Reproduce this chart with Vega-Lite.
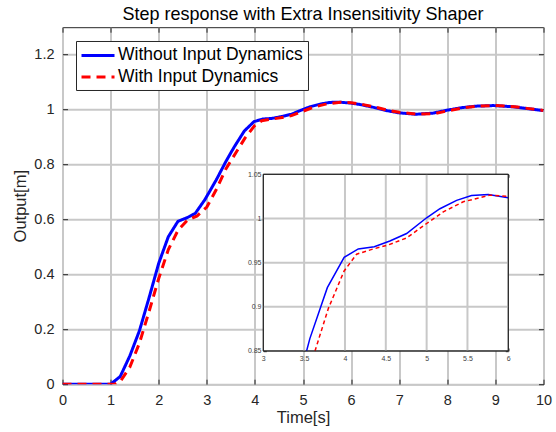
{
  "$schema": "https://vega.github.io/schema/vega-lite/v6.json",
  "width": 481,
  "height": 357,
  "autosize": {"type": "none"},
  "padding": {"left": 62.5, "top": 27.2, "right": 12.5, "bottom": 47.7},
  "background": "white",
  "title": {"text": "Step response with Extra Insensitivity Shaper", "font": "Liberation Sans", "fontSize": 18, "fontWeight": "normal", "color": "#000000", "anchor": "middle", "offset": 3},
  "config": {
    "font": "Liberation Sans",
    "view": {"stroke": "#262626", "strokeWidth": 1},
    "axis": {"labelFont": "Liberation Sans", "titleFont": "Liberation Sans", "labelColor": "#262626", "titleColor": "#262626", "tickColor": "#262626", "tickWidth": 1, "gridColor": "#c8c8c8", "gridWidth": 2, "domain": false, "titleFontWeight": "normal", "labelFlush": false}
  },
  "datasets": {
    "main": [
      {"t": 0, "v": 0, "series": "Without Input Dynamics"},
      {"t": 1.0, "v": 0, "series": "Without Input Dynamics"},
      {"t": 1.2, "v": 0.028, "series": "Without Input Dynamics"},
      {"t": 1.4, "v": 0.103, "series": "Without Input Dynamics"},
      {"t": 1.6, "v": 0.195, "series": "Without Input Dynamics"},
      {"t": 1.8, "v": 0.315, "series": "Without Input Dynamics"},
      {"t": 2.0, "v": 0.44, "series": "Without Input Dynamics"},
      {"t": 2.2, "v": 0.537, "series": "Without Input Dynamics"},
      {"t": 2.4, "v": 0.593, "series": "Without Input Dynamics"},
      {"t": 2.6, "v": 0.607, "series": "Without Input Dynamics"},
      {"t": 2.76, "v": 0.622, "series": "Without Input Dynamics"},
      {"t": 2.96, "v": 0.672, "series": "Without Input Dynamics"},
      {"t": 3.2, "v": 0.745, "series": "Without Input Dynamics"},
      {"t": 3.4, "v": 0.812, "series": "Without Input Dynamics"},
      {"t": 3.57, "v": 0.864, "series": "Without Input Dynamics"},
      {"t": 3.78, "v": 0.922, "series": "Without Input Dynamics"},
      {"t": 3.98, "v": 0.956, "series": "Without Input Dynamics"},
      {"t": 4.16, "v": 0.9655, "series": "Without Input Dynamics"},
      {"t": 4.36, "v": 0.968, "series": "Without Input Dynamics"},
      {"t": 4.55, "v": 0.9745, "series": "Without Input Dynamics"},
      {"t": 4.76, "v": 0.983, "series": "Without Input Dynamics"},
      {"t": 5.0, "v": 1.0005, "series": "Without Input Dynamics"},
      {"t": 5.16, "v": 1.011, "series": "Without Input Dynamics"},
      {"t": 5.37, "v": 1.0205, "series": "Without Input Dynamics"},
      {"t": 5.55, "v": 1.026, "series": "Without Input Dynamics"},
      {"t": 5.76, "v": 1.027, "series": "Without Input Dynamics"},
      {"t": 6.0, "v": 1.0235, "series": "Without Input Dynamics"},
      {"t": 6.2, "v": 1.018, "series": "Without Input Dynamics"},
      {"t": 6.47, "v": 1.008, "series": "Without Input Dynamics"},
      {"t": 6.75, "v": 0.996, "series": "Without Input Dynamics"},
      {"t": 7.0, "v": 0.988, "series": "Without Input Dynamics"},
      {"t": 7.35, "v": 0.983, "series": "Without Input Dynamics"},
      {"t": 7.7, "v": 0.987, "series": "Without Input Dynamics"},
      {"t": 8.0, "v": 0.998, "series": "Without Input Dynamics"},
      {"t": 8.3, "v": 1.007, "series": "Without Input Dynamics"},
      {"t": 8.6, "v": 1.0125, "series": "Without Input Dynamics"},
      {"t": 8.96, "v": 1.0146, "series": "Without Input Dynamics"},
      {"t": 9.35, "v": 1.0105, "series": "Without Input Dynamics"},
      {"t": 9.7, "v": 1.003, "series": "Without Input Dynamics"},
      {"t": 10.0, "v": 0.996, "series": "Without Input Dynamics"},
      {"t": 0, "v": 0, "series": "With Input Dynamics"},
      {"t": 1.0, "v": 0, "series": "With Input Dynamics"},
      {"t": 1.1, "v": 0.001, "series": "With Input Dynamics"},
      {"t": 1.2, "v": 0.01, "series": "With Input Dynamics"},
      {"t": 1.4, "v": 0.062, "series": "With Input Dynamics"},
      {"t": 1.6, "v": 0.15, "series": "With Input Dynamics"},
      {"t": 1.8, "v": 0.265, "series": "With Input Dynamics"},
      {"t": 2.0, "v": 0.385, "series": "With Input Dynamics"},
      {"t": 2.2, "v": 0.49, "series": "With Input Dynamics"},
      {"t": 2.4, "v": 0.56, "series": "With Input Dynamics"},
      {"t": 2.6, "v": 0.598, "series": "With Input Dynamics"},
      {"t": 2.8, "v": 0.613, "series": "With Input Dynamics"},
      {"t": 3.0, "v": 0.645, "series": "With Input Dynamics"},
      {"t": 3.2, "v": 0.71, "series": "With Input Dynamics"},
      {"t": 3.4, "v": 0.785, "series": "With Input Dynamics"},
      {"t": 3.63, "v": 0.85, "series": "With Input Dynamics"},
      {"t": 3.8, "v": 0.898, "series": "With Input Dynamics"},
      {"t": 3.99, "v": 0.9406, "series": "With Input Dynamics"},
      {"t": 4.14, "v": 0.9596, "series": "With Input Dynamics"},
      {"t": 4.35, "v": 0.9655, "series": "With Input Dynamics"},
      {"t": 4.53, "v": 0.97, "series": "With Input Dynamics"},
      {"t": 4.76, "v": 0.978, "series": "With Input Dynamics"},
      {"t": 5.0, "v": 0.994, "series": "With Input Dynamics"},
      {"t": 5.2, "v": 1.0075, "series": "With Input Dynamics"},
      {"t": 5.45, "v": 1.019, "series": "With Input Dynamics"},
      {"t": 5.78, "v": 1.0264, "series": "With Input Dynamics"},
      {"t": 6.0, "v": 1.025, "series": "With Input Dynamics"},
      {"t": 6.25, "v": 1.018, "series": "With Input Dynamics"},
      {"t": 6.5, "v": 1.009, "series": "With Input Dynamics"},
      {"t": 6.75, "v": 0.998, "series": "With Input Dynamics"},
      {"t": 7.0, "v": 0.99, "series": "With Input Dynamics"},
      {"t": 7.4, "v": 0.983, "series": "With Input Dynamics"},
      {"t": 7.75, "v": 0.986, "series": "With Input Dynamics"},
      {"t": 8.05, "v": 0.997, "series": "With Input Dynamics"},
      {"t": 8.35, "v": 1.007, "series": "With Input Dynamics"},
      {"t": 8.6, "v": 1.012, "series": "With Input Dynamics"},
      {"t": 9.0, "v": 1.0148, "series": "With Input Dynamics"},
      {"t": 9.4, "v": 1.0107, "series": "With Input Dynamics"},
      {"t": 9.7, "v": 1.0035, "series": "With Input Dynamics"},
      {"t": 10.0, "v": 0.997, "series": "With Input Dynamics"}
    ],
    "inset": [
      {"t": 3.53, "v": 0.85, "series": "Without Input Dynamics"},
      {"t": 3.57, "v": 0.864, "series": "Without Input Dynamics"},
      {"t": 3.784, "v": 0.9217, "series": "Without Input Dynamics"},
      {"t": 3.99, "v": 0.956, "series": "Without Input Dynamics"},
      {"t": 4.163, "v": 0.9655, "series": "Without Input Dynamics"},
      {"t": 4.359, "v": 0.968, "series": "Without Input Dynamics"},
      {"t": 4.55, "v": 0.9745, "series": "Without Input Dynamics"},
      {"t": 4.755, "v": 0.983, "series": "Without Input Dynamics"},
      {"t": 5.0, "v": 1.0008, "series": "Without Input Dynamics"},
      {"t": 5.163, "v": 1.011, "series": "Without Input Dynamics"},
      {"t": 5.367, "v": 1.0205, "series": "Without Input Dynamics"},
      {"t": 5.55, "v": 1.026, "series": "Without Input Dynamics"},
      {"t": 5.755, "v": 1.027, "series": "Without Input Dynamics"},
      {"t": 6.0, "v": 1.0235, "series": "Without Input Dynamics"},
      {"t": 3.633, "v": 0.85, "series": "With Input Dynamics"},
      {"t": 3.796, "v": 0.898, "series": "With Input Dynamics"},
      {"t": 3.99, "v": 0.9406, "series": "With Input Dynamics"},
      {"t": 4.143, "v": 0.9596, "series": "With Input Dynamics"},
      {"t": 4.347, "v": 0.9655, "series": "With Input Dynamics"},
      {"t": 4.53, "v": 0.97, "series": "With Input Dynamics"},
      {"t": 4.755, "v": 0.978, "series": "With Input Dynamics"},
      {"t": 5.0, "v": 0.9943, "series": "With Input Dynamics"},
      {"t": 5.204, "v": 1.0075, "series": "With Input Dynamics"},
      {"t": 5.449, "v": 1.0189, "series": "With Input Dynamics"},
      {"t": 5.776, "v": 1.0264, "series": "With Input Dynamics"},
      {"t": 6.0, "v": 1.025, "series": "With Input Dynamics"}
    ],
    "insetGridX": [{"g": 3.5}, {"g": 4}, {"g": 4.5}, {"g": 5}, {"g": 5.5}],
    "insetGridY": [{"g": 0.9}, {"g": 0.95}, {"g": 1.0}]
  },
  "layer": [
    {
      "data": {"name": "main"},
      "layer": [
        {
          "transform": [{"filter": "datum.series === 'Without Input Dynamics'"}],
          "mark": {"type": "line", "strokeWidth": 3, "clip": true},
          "encoding": {
            "x": {"field": "t", "type": "quantitative", "scale": {"domain": [0, 10], "nice": false, "zero": false},
              "axis": {"orient": "bottom", "values": [0, 1, 2, 3, 4, 5, 6, 7, 8, 9, 10], "grid": true, "tickSize": -5, "labelFontSize": 14.5, "labelPadding": 14.5, "title": "Time[s]", "titleFontSize": 16.5, "titlePadding": 2}},
            "y": {"field": "v", "type": "quantitative", "scale": {"domain": [0, 1.3], "nice": false, "zero": false},
              "axis": {"orient": "left", "values": [0, 0.2, 0.4, 0.6, 0.8, 1, 1.2], "format": "~g", "grid": true, "tickSize": -5, "labelFontSize": 14.5, "labelPadding": 13.5, "title": "Output[m]", "titleFontSize": 16.5, "titlePadding": 5}},
            "color": {"field": "series", "type": "nominal",
              "scale": {"domain": ["Without Input Dynamics", "With Input Dynamics"], "range": ["#0000ff", "#ff0000"]},
              "legend": {"title": null, "orient": "none", "legendX": 13.5, "legendY": 13.8, "symbolType": "M-2,0L2,0", "symbolSize": 272.25, "symbolStrokeWidth": 3, "symbolOffset": 7.5, "labelFont": "Liberation Sans", "labelFontSize": 17.5, "labelColor": "#000000", "labelOffset": 10, "labelLimit": 400, "padding": 4.5, "rowPadding": 2.5, "strokeColor": "#262626", "fillColor": "#ffffff"}},
            "strokeDash": {"field": "series", "type": "nominal",
              "scale": {"domain": ["Without Input Dynamics", "With Input Dynamics"], "range": [[1, 0], [9, 6]]},
              "legend": {"title": null}}
          }
        },
        {
          "transform": [{"filter": "datum.series === 'With Input Dynamics'"}],
          "mark": {"type": "line", "strokeWidth": 3, "clip": true},
          "encoding": {
            "x": {"field": "t", "type": "quantitative",
              "axis": {"orient": "top", "values": [0, 1, 2, 3, 4, 5, 6, 7, 8, 9, 10], "grid": false, "tickSize": -5, "labels": false, "title": null}},
            "y": {"field": "v", "type": "quantitative",
              "axis": {"orient": "right", "values": [0, 0.2, 0.4, 0.6, 0.8, 1, 1.2], "grid": false, "tickSize": -5, "labels": false, "title": null}},
            "color": {"field": "series", "type": "nominal"},
            "strokeDash": {"field": "series", "type": "nominal"}
          }
        }
      ],
      "resolve": {"axis": {"x": "independent", "y": "independent"}}
    },
    {
      "layer": [
        {
          "data": {"values": [{}]},
          "mark": {"type": "rect", "fill": "#ffffff", "stroke": "#262626", "strokeWidth": 1},
          "encoding": {
            "x": {"datum": 3, "type": "quantitative", "scale": {"domain": [3, 6], "range": [200.8, 445.8], "nice": false, "zero": false},
              "axis": {"orient": "bottom", "offset": -33.2, "values": [3, 3.5, 4, 4.5, 5, 5.5, 6], "format": "~g", "grid": false, "tickSize": -3, "labelFontSize": 7, "labelPadding": 6.5, "labelColor": "#404040", "title": null}},
            "x2": {"datum": 6},
            "y": {"datum": 0.85, "type": "quantitative", "scale": {"domain": [0.85, 1.05], "range": [323.8, 147.1], "nice": false, "zero": false},
              "axis": {"orient": "left", "offset": -200.8, "values": [0.85, 0.9, 0.95, 1, 1.05], "format": "~g", "grid": false, "tickSize": -3, "labelFontSize": 7, "labelPadding": 5.3, "labelColor": "#404040", "title": null}},
            "y2": {"datum": 1.05}
          }
        },
        {
          "data": {"name": "insetGridX"},
          "mark": {"type": "rule", "color": "#c8c8c8", "strokeWidth": 2},
          "encoding": {
            "x": {"field": "g", "type": "quantitative", "axis": null},
            "y": {"datum": 0.85, "type": "quantitative", "axis": null},
            "y2": {"datum": 1.05}
          }
        },
        {
          "data": {"name": "insetGridY"},
          "mark": {"type": "rule", "color": "#c8c8c8", "strokeWidth": 2},
          "encoding": {
            "y": {"field": "g", "type": "quantitative", "axis": null},
            "x": {"datum": 3, "type": "quantitative", "axis": null},
            "x2": {"datum": 6}
          }
        },
        {
          "data": {"name": "inset"},
          "transform": [{"filter": "datum.series === 'Without Input Dynamics'"}],
          "mark": {"type": "line", "color": "#0000ff", "strokeWidth": 1.5},
          "encoding": {
            "x": {"field": "t", "type": "quantitative",
              "axis": {"orient": "top", "offset": -147.1, "values": [3, 3.5, 4, 4.5, 5, 5.5, 6], "grid": false, "tickSize": -3, "labels": false, "title": null}},
            "y": {"field": "v", "type": "quantitative",
              "axis": {"orient": "right", "offset": -35.2, "values": [0.85, 0.9, 0.95, 1, 1.05], "grid": false, "tickSize": -3, "labels": false, "title": null}}
          }
        },
        {
          "data": {"name": "inset"},
          "transform": [{"filter": "datum.series === 'With Input Dynamics'"}],
          "mark": {"type": "line", "color": "#ff0000", "strokeWidth": 1.5, "strokeDash": [4, 3]},
          "encoding": {
            "x": {"field": "t", "type": "quantitative", "axis": null},
            "y": {"field": "v", "type": "quantitative", "axis": null}
          }
        },
        {
          "data": {"values": [{}]},
          "mark": {"type": "rect", "fill": null, "fillOpacity": 0, "stroke": "#262626", "strokeWidth": 1},
          "encoding": {
            "x": {"datum": 3, "type": "quantitative", "axis": null},
            "x2": {"datum": 6},
            "y": {"datum": 0.85, "type": "quantitative", "axis": null},
            "y2": {"datum": 1.05}
          }
        }
      ],
      "resolve": {"axis": {"x": "independent", "y": "independent"}}
    }
  ],
  "resolve": {"scale": {"x": "independent", "y": "independent"}, "axis": {"x": "independent", "y": "independent"}}
}
